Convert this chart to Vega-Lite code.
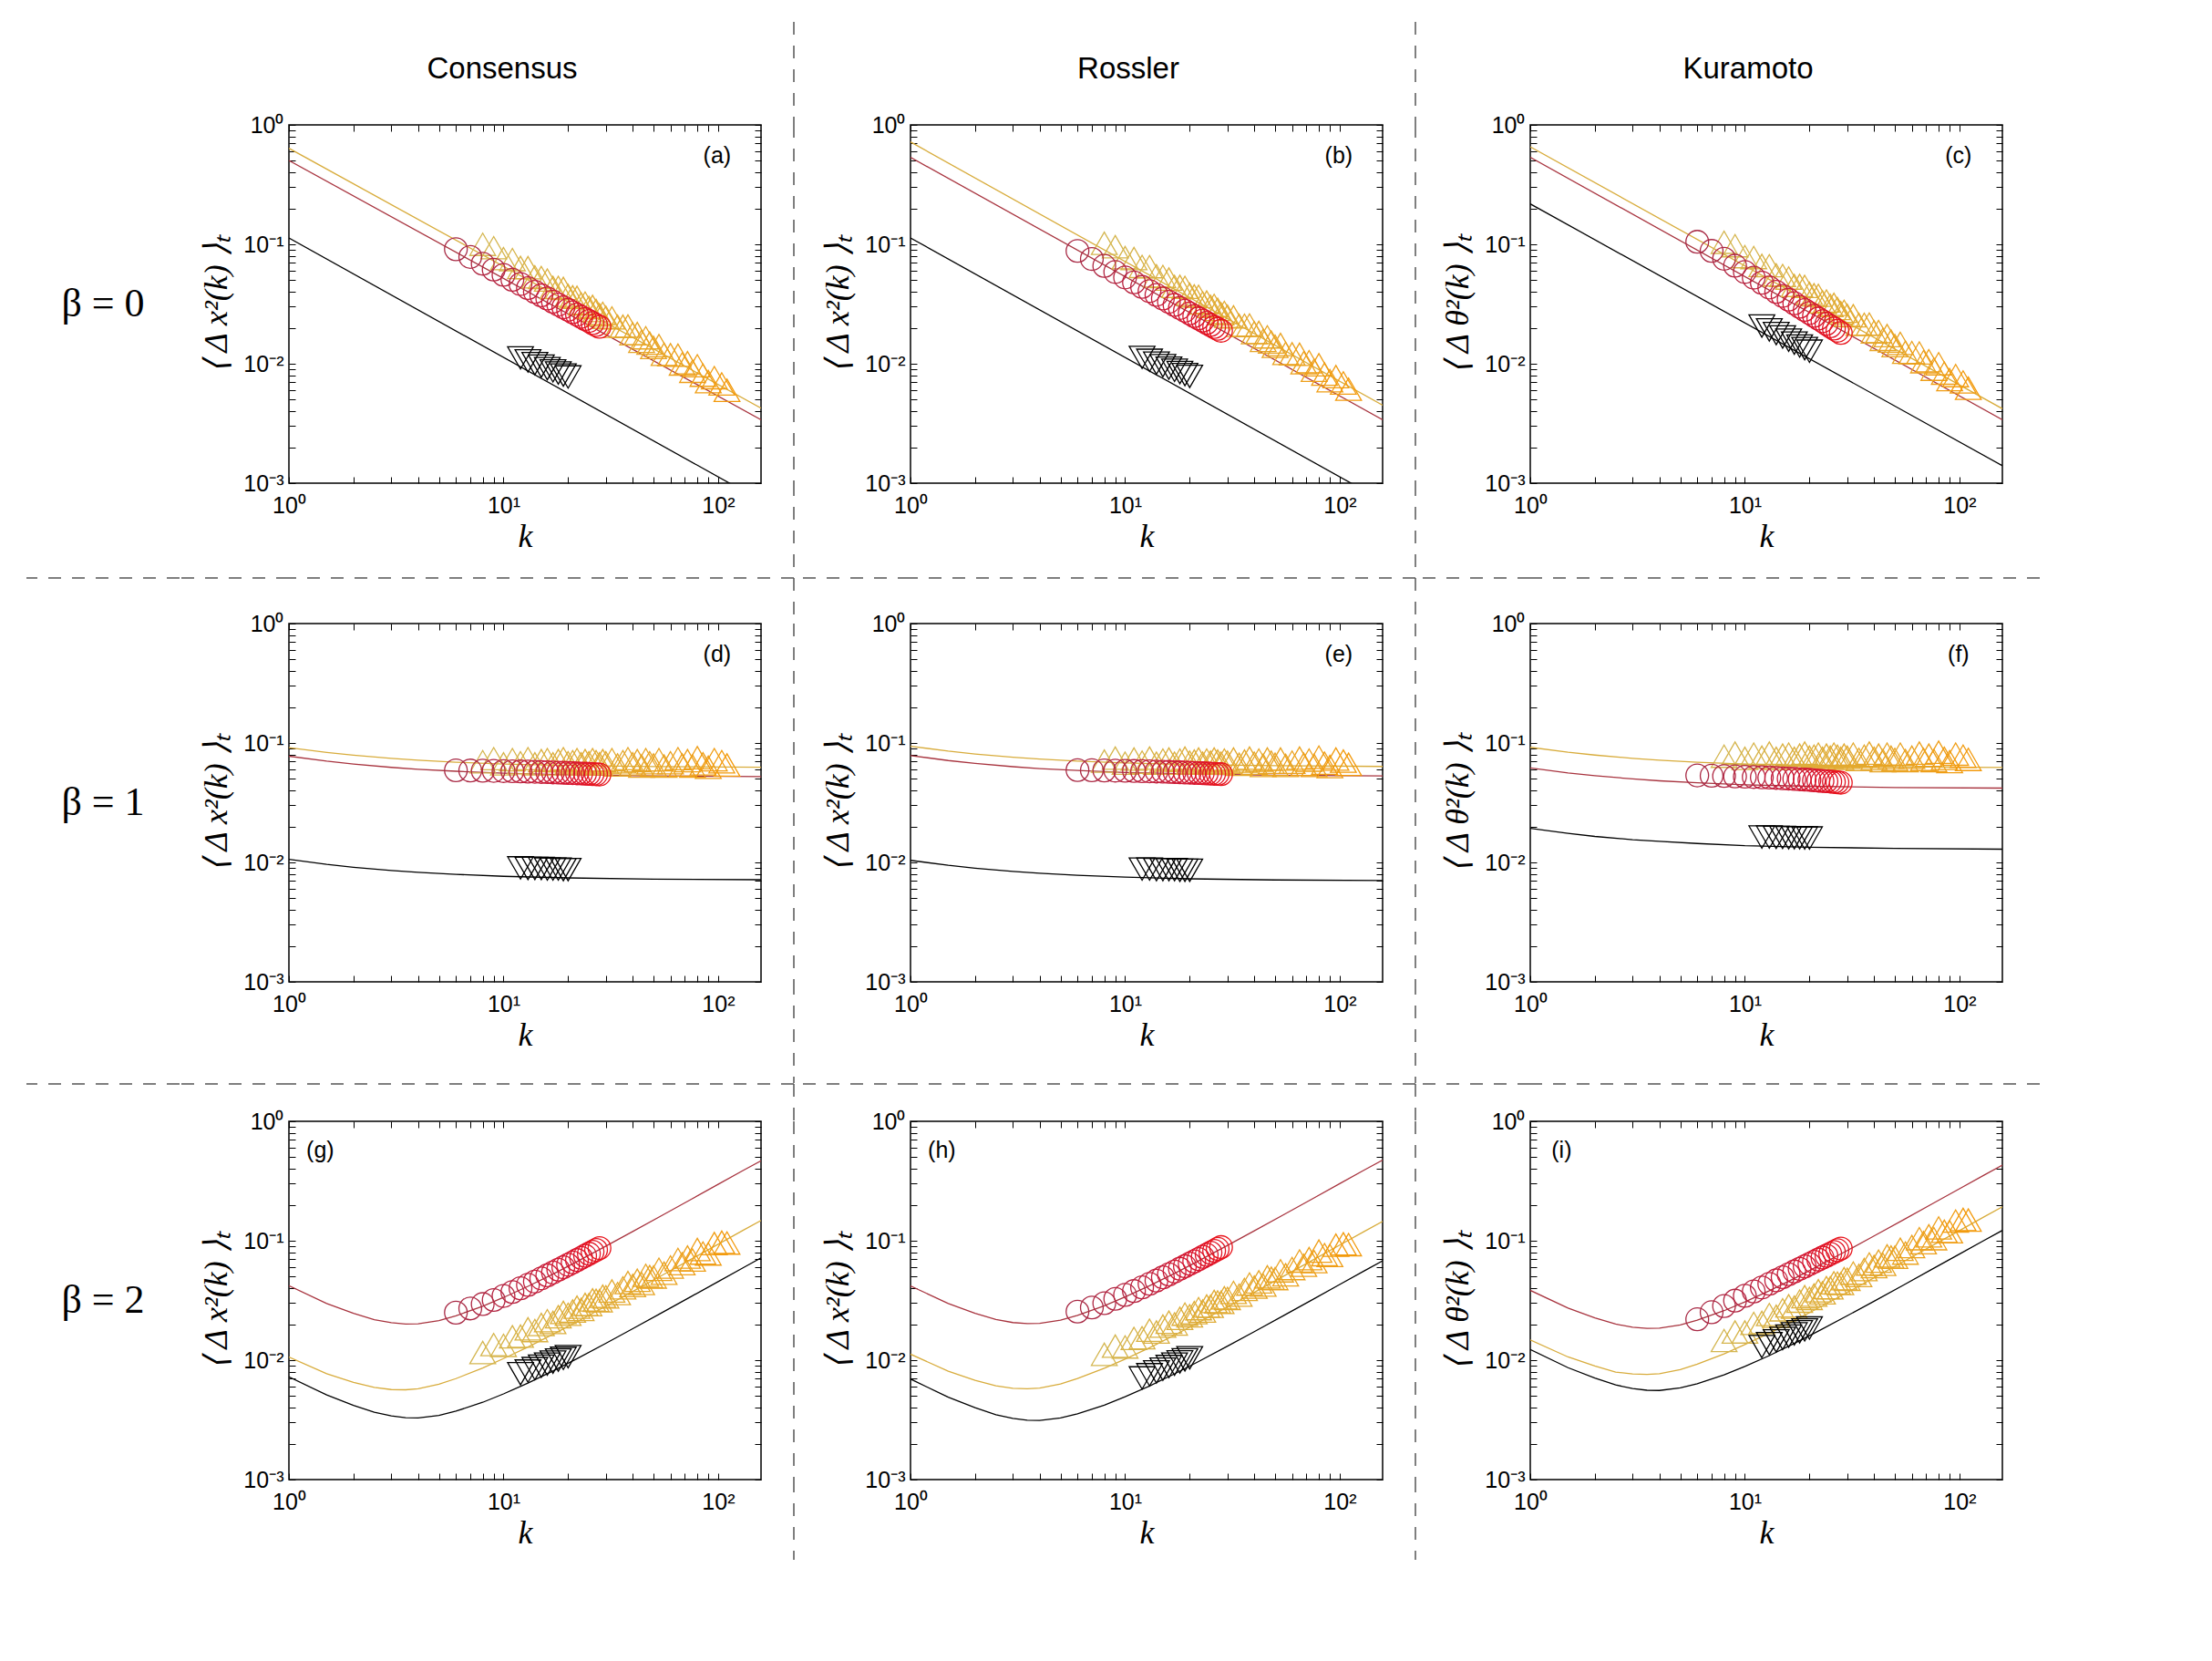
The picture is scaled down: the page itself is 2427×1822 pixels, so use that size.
{
"$schema": "https://vega.github.io/schema/vega-lite/v6.json",
"background": "white",
"autosize": {"type": "pad"},
"padding": {"left": 28, "top": 23, "right": 0, "bottom": 0},
"config": {
  "view": {"stroke": null},
  "axis": {"grid": false, "domain": false, "tickColor": "black", "tickWidth": 1, "labelColor": "black", "titleColor": "black", "labelFont": "Liberation Sans", "labelFontSize": 25, "titleFont": "Liberation Serif", "titleFontStyle": "italic", "titleFontWeight": "normal", "titleFontSize": 36, "labelFlush": false, "labelOverlap": false}
},
"datasets": {
"circ": [
{"k":6,"a":0.091,"b":0.088,"c":0.105,"d":0.059,"e":0.0593,"f":0.0535,"g":0.025,"h":0.0255,"i":0.022},
{"k":7,"a":0.0784,"b":0.0754,"c":0.0881,"d":0.0588,"e":0.0591,"f":0.0532,"g":0.0271,"h":0.0276,"i":0.0252},
{"k":8,"a":0.0688,"b":0.066,"c":0.0757,"d":0.0586,"e":0.0589,"f":0.0529,"g":0.0295,"h":0.03,"i":0.0284},
{"k":9,"a":0.0614,"b":0.0587,"c":0.0662,"d":0.0584,"e":0.0587,"f":0.0525,"g":0.0319,"h":0.0326,"i":0.0315},
{"k":10,"a":0.0555,"b":0.0528,"c":0.0587,"d":0.0582,"e":0.0585,"f":0.0522,"g":0.0345,"h":0.0352,"i":0.0346},
{"k":11,"a":0.0505,"b":0.048,"c":0.0526,"d":0.058,"e":0.0583,"f":0.0519,"g":0.0372,"h":0.0379,"i":0.0376},
{"k":12,"a":0.0465,"b":0.044,"c":0.0477,"d":0.0578,"e":0.0581,"f":0.0516,"g":0.04,"h":0.0407,"i":0.0406},
{"k":13,"a":0.043,"b":0.0406,"c":0.0435,"d":0.0576,"e":0.0579,"f":0.0513,"g":0.0427,"h":0.0436,"i":0.0436},
{"k":14,"a":0.04,"b":0.0377,"c":0.04,"d":0.0574,"e":0.0577,"f":0.051,"g":0.0455,"h":0.0464,"i":0.0466},
{"k":15,"a":0.0374,"b":0.0352,"c":0.037,"d":0.0572,"e":0.0575,"f":0.0506,"g":0.0484,"h":0.0494,"i":0.0495},
{"k":16,"a":0.0352,"b":0.033,"c":0.0344,"d":0.057,"e":0.0573,"f":0.0503,"g":0.0513,"h":0.0523,"i":0.0524},
{"k":17,"a":0.0331,"b":0.0311,"c":0.0321,"d":0.0567,"e":0.057,"f":0.05,"g":0.0542,"h":0.0552,"i":0.0553},
{"k":18,"a":0.0313,"b":0.0293,"c":0.03,"d":0.0565,"e":0.0568,"f":0.0497,"g":0.0572,"h":0.0583,"i":0.0582},
{"k":19,"a":0.0297,"b":0.0278,"c":0.0282,"d":0.0563,"e":0.0566,"f":0.0494,"g":0.06,"h":0.0612,"i":0.061},
{"k":20,"a":0.0283,"b":0.0264,"c":0.0266,"d":0.0561,"e":0.0564,"f":0.0491,"g":0.063,"h":0.0643,"i":0.0638},
{"k":21,"a":0.027,"b":0.0251,"c":0.0252,"d":0.0559,"e":0.0562,"f":0.0487,"g":0.0659,"h":0.0672,"i":0.0667},
{"k":22,"a":0.0258,"b":0.024,"c":0.0239,"d":0.0557,"e":0.056,"f":0.0484,"g":0.0689,"h":0.0702,"i":0.0695},
{"k":23,"a":0.0247,"b":0.023,"c":0.0227,"d":0.0555,"e":0.0558,"f":0.0481,"g":0.0719,"h":0.0733,"i":0.0723},
{"k":24,"a":0.0237,"b":0.022,"c":0.0216,"d":0.0553,"e":0.0556,"f":0.0478,"g":0.0749,"h":0.0763,"i":0.075},
{"k":25,"a":0.0228,"b":0.0211,"c":0.0206,"d":0.0551,"e":0.0554,"f":0.0475,"g":0.0779,"h":0.0794,"i":0.0778},
{"k":26,"a":0.0219,"b":0.0203,"c":0.0197,"d":0.0549,"e":0.0552,"f":0.0472,"g":0.0809,"h":0.0824,"i":0.0806},
{"k":27,"a":0.0211,"b":0.0196,"c":0.0189,"d":0.0547,"e":0.055,"f":0.0468,"g":0.0838,"h":0.0855,"i":0.0833},
{"k":28,"a":0.0204,"b":0.0189,"c":0.0181,"d":0.0545,"e":0.0548,"f":0.0465,"g":0.0868,"h":0.0885,"i":0.086}
],
"tri": [
{"k":8,"a":0.1,"b":0.102,"c":0.104,"d":0.0697,"e":0.0705,"f":0.0775,"g":0.0116,"h":0.0112,"i":0.0146},
{"k":9,"a":0.0937,"b":0.0956,"c":0.0974,"d":0.0739,"e":0.0747,"f":0.0822,"g":0.0135,"h":0.0131,"i":0.0172},
{"k":10,"a":0.0759,"b":0.0774,"c":0.0789,"d":0.0669,"e":0.0677,"f":0.0744,"g":0.0133,"h":0.0129,"i":0.0172},
{"k":11,"a":0.0745,"b":0.076,"c":0.0775,"d":0.0725,"e":0.0733,"f":0.0806,"g":0.0157,"h":0.0152,"i":0.0203},
{"k":12,"a":0.064,"b":0.0653,"c":0.0666,"d":0.0683,"e":0.0691,"f":0.076,"g":0.0159,"h":0.0154,"i":0.0207},
{"k":13,"a":0.0637,"b":0.065,"c":0.0662,"d":0.0739,"e":0.0747,"f":0.0822,"g":0.0183,"h":0.0178,"i":0.0241},
{"k":14,"a":0.0534,"b":0.0545,"c":0.0555,"d":0.0669,"e":0.0677,"f":0.0744,"g":0.0177,"h":0.0172,"i":0.0233},
{"k":15,"a":0.0527,"b":0.0538,"c":0.0548,"d":0.0711,"e":0.0719,"f":0.0791,"g":0.0199,"h":0.0193,"i":0.0264},
{"k":16,"a":0.0502,"b":0.0512,"c":0.0522,"d":0.0725,"e":0.0733,"f":0.0806,"g":0.0214,"h":0.0208,"i":0.0285},
{"k":17,"a":0.0435,"b":0.0444,"c":0.0452,"d":0.0669,"e":0.0677,"f":0.0744,"g":0.0207,"h":0.0201,"i":0.0278},
{"k":18,"a":0.0436,"b":0.0445,"c":0.0453,"d":0.0711,"e":0.0719,"f":0.0791,"g":0.0231,"h":0.0224,"i":0.0312},
{"k":19,"a":0.0427,"b":0.0436,"c":0.0444,"d":0.0739,"e":0.0747,"f":0.0822,"g":0.0251,"h":0.0243,"i":0.034},
{"k":20,"a":0.0374,"b":0.0381,"c":0.0389,"d":0.0683,"e":0.0691,"f":0.076,"g":0.0242,"h":0.0235,"i":0.0329},
{"k":21,"a":0.0363,"b":0.037,"c":0.0378,"d":0.0697,"e":0.0705,"f":0.0775,"g":0.0258,"h":0.025,"i":0.0351},
{"k":22,"a":0.036,"b":0.0367,"c":0.0374,"d":0.0725,"e":0.0733,"f":0.0806,"g":0.0278,"h":0.027,"i":0.0381},
{"k":23,"a":0.0317,"b":0.0323,"c":0.033,"d":0.0669,"e":0.0677,"f":0.0744,"g":0.0266,"h":0.0258,"i":0.0366},
{"k":24,"a":0.0322,"b":0.0328,"c":0.0335,"d":0.0711,"e":0.0719,"f":0.0791,"g":0.0293,"h":0.0284,"i":0.0405},
{"k":25,"a":0.0296,"b":0.0302,"c":0.0308,"d":0.0683,"e":0.0691,"f":0.076,"g":0.0292,"h":0.0283,"i":0.0404},
{"k":26,"a":0.0302,"b":0.0308,"c":0.0314,"d":0.0725,"e":0.0733,"f":0.0806,"g":0.032,"h":0.031,"i":0.0444},
{"k":27,"a":0.0279,"b":0.0285,"c":0.029,"d":0.0697,"e":0.0705,"f":0.0775,"g":0.0317,"h":0.0307,"i":0.0442},
{"k":28,"a":0.0257,"b":0.0262,"c":0.0267,"d":0.0669,"e":0.0677,"f":0.0744,"g":0.0314,"h":0.0305,"i":0.0438},
{"k":29,"a":0.0264,"b":0.0269,"c":0.0275,"d":0.0711,"e":0.0719,"f":0.0791,"g":0.0343,"h":0.0333,"i":0.0481},
{"k":30,"a":0.0245,"b":0.025,"c":0.0255,"d":0.0683,"e":0.0691,"f":0.076,"g":0.0339,"h":0.0329,"i":0.0476},
{"k":32,"a":0.0242,"b":0.0247,"c":0.0252,"d":0.0725,"e":0.0733,"f":0.0806,"g":0.038,"h":0.0369,"i":0.0536},
{"k":34,"a":0.0206,"b":0.021,"c":0.0214,"d":0.0655,"e":0.0663,"f":0.0729,"g":0.0361,"h":0.035,"i":0.0512},
{"k":36,"a":0.0206,"b":0.021,"c":0.0214,"d":0.0697,"e":0.0705,"f":0.0775,"g":0.0403,"h":0.0391,"i":0.0574},
{"k":38,"a":0.0207,"b":0.0211,"c":0.0215,"d":0.0739,"e":0.0747,"f":0.0822,"g":0.0447,"h":0.0434,"i":0.0639},
{"k":40,"a":0.0178,"b":0.0182,"c":0.0185,"d":0.0669,"e":0.0677,"f":0.0744,"g":0.0422,"h":0.0409,"i":0.0607},
{"k":42,"a":0.0179,"b":0.0183,"c":0.0186,"d":0.0711,"e":0.0719,"f":0.0791,"g":0.0467,"h":0.0453,"i":0.0674},
{"k":44,"a":0.0154,"b":0.0157,"c":0.016,"d":0.0641,"e":0.0649,"f":0.0713,"g":0.0438,"h":0.0425,"i":0.0634},
{"k":46,"a":0.0165,"b":0.0168,"c":0.0172,"d":0.0725,"e":0.0733,"f":0.0806,"g":0.0513,"h":0.0498,"i":0.0746},
{"k":48,"a":0.0149,"b":0.0152,"c":0.0155,"d":0.0683,"e":0.0691,"f":0.076,"g":0.0501,"h":0.0486,"i":0.0731},
{"k":50,"a":0.0137,"b":0.014,"c":0.0142,"d":0.0655,"e":0.0663,"f":0.0729,"g":0.0497,"h":0.0482,"i":0.0728},
{"k":53,"a":0.0142,"b":0.0145,"c":0.0148,"d":0.0725,"e":0.0733,"f":0.0806,"g":0.0577,"h":0.056,"i":0.0849},
{"k":56,"a":0.012,"b":0.0122,"c":0.0125,"d":0.0641,"e":0.0649,"f":0.0713,"g":0.0535,"h":0.0519,"i":0.0789},
{"k":60,"a":0.0119,"b":0.0121,"c":0.0124,"d":0.0683,"e":0.0691,"f":0.076,"g":0.0603,"h":0.0585,"i":0.0895},
{"k":65,"a":0.0118,"b":0.012,"c":0.0123,"d":0.0739,"e":0.0747,"f":0.0822,"g":0.0697,"h":0.0676,"i":0.104},
{"k":68,"a":0.00996,"b":0.0102,"c":0.0104,"d":0.0655,"e":0.0663,"f":0.0729,"g":0.0642,"h":0.0623,"i":0.0963},
{"k":72,"a":0.0102,"b":0.0104,"c":0.0106,"d":0.0711,"e":0.0719,"f":0.0791,"g":0.073,"h":0.0708,"i":0.11},
{"k":76,"a":0.00865,"b":0.00882,"c":0.009,"d":0.0641,"e":0.0649,"f":0.0713,"g":0.0689,"h":0.0668,"i":0.104},
{"k":80,"a":0.00962,"b":0.00981,"c":0.01,"d":0.0753,"e":0.0761,"f":0.0837,"g":0.0844,"h":0.0819,"i":0.128},
{"k":85,"a":0.00803,"b":0.00819,"c":0.00835,"d":0.0669,"e":0.0677,"f":0.0744,"g":0.0789,"h":0.0765,"i":0.12},
{"k":90,"a":0.00708,"b":0.00722,"c":0.00736,"d":0.0627,"e":0.0635,"f":0.0698,"g":0.0775,"h":0.0752,"i":0.119},
{"k":96,"a":0.00765,"b":0.0078,"c":0.00796,"d":0.0725,"e":0.0733,"f":0.0806,"g":0.0946,"h":0.0918,"i":0.146},
{"k":104,"a":0.00677,"b":0.00691,"c":0.00704,"d":0.0697,"e":0.0705,"f":0.0775,"g":0.0972,"h":0.0943,"i":0.151},
{"k":110,"a":0.006,"b":0.00612,"c":0.00624,"d":0.0655,"e":0.0663,"f":0.0729,"g":0.0957,"h":0.0928,"i":0.149}
],
"btri": [
{"k":12,"a":0.0112,"b":0.0113,"c":0.0207,"d":0.009,"e":0.0088,"f":0.0163,"g":0.0077,"h":0.0071,"i":0.013},
{"k":13,"a":0.01057,"b":0.01068,"c":0.01919,"d":0.0089,"e":0.0088,"f":0.0163,"g":0.0081,"h":0.00755,"i":0.01374},
{"k":14,"a":0.01002,"b":0.01012,"c":0.01788,"d":0.0089,"e":0.0087,"f":0.0162,"g":0.0085,"h":0.00798,"i":0.01448},
{"k":15,"a":0.00954,"b":0.00964,"c":0.01675,"d":0.0089,"e":0.0087,"f":0.0162,"g":0.0089,"h":0.00841,"i":0.0152},
{"k":16,"a":0.0091,"b":0.00919,"c":0.01575,"d":0.0088,"e":0.0087,"f":0.0161,"g":0.00927,"h":0.00884,"i":0.0159},
{"k":17,"a":0.00872,"b":0.00881,"c":0.01487,"d":0.0088,"e":0.0087,"f":0.0161,"g":0.00964,"h":0.00925,"i":0.01659},
{"k":18,"a":0.00837,"b":0.00845,"c":0.01408,"d":0.0088,"e":0.0086,"f":0.0161,"g":0.01001,"h":0.00966,"i":0.01727},
{"k":19,"a":0.00804,"b":0.00812,"c":0.01338,"d":0.0087,"e":0.0086,"f":0.016,"g":0.01036,"h":0.01007,"i":0.01793},
{"k":20,"a":0.00775,"b":0.00783,"c":0.01274,"d":0.0087,"e":0.0086,"f":0.016,"g":0.01071,"h":0.01047,"i":0.01859}
],
"cur0": [
{"k":1,"ar":0.503,"ay":0.637,"ab":0.113,"br":0.535,"by":0.72,"bb":0.113,"cr":0.535,"cy":0.656,"cb":0.218},
{"k":158.5,"ar":0.0034,"ay":0.00425,"ab":0.000713,"br":0.0034,"by":0.0045,"bb":0.000713,"cr":0.0034,"cy":0.0042,"cb":0.0014}
],
"cur1": [
{"k":1,"dr":0.0775,"dy":0.0915,"db":0.0106,"er":0.0785,"ey":0.094,"eb":0.0104,"fr":0.0619,"fy":0.092,"fb":0.0193},
{"k":1.5,"dr":0.0704,"dy":0.0834,"db":0.00963,"er":0.0713,"ey":0.0854,"eb":0.00945,"fr":0.0562,"fy":0.0837,"fb":0.0175},
{"k":2,"dr":0.0666,"dy":0.079,"db":0.00911,"er":0.0675,"ey":0.0808,"eb":0.00894,"fr":0.0532,"fy":0.0792,"fb":0.0165},
{"k":3,"dr":0.0625,"dy":0.0743,"db":0.00855,"er":0.0633,"ey":0.0759,"eb":0.0084,"fr":0.05,"fy":0.0744,"fb":0.0155},
{"k":4,"dr":0.0603,"dy":0.0718,"db":0.00826,"er":0.0611,"ey":0.0733,"eb":0.00811,"fr":0.0482,"fy":0.0718,"fb":0.015},
{"k":6,"dr":0.058,"dy":0.0691,"db":0.00794,"er":0.0588,"ey":0.0705,"eb":0.0078,"fr":0.0464,"fy":0.0691,"fb":0.0144},
{"k":10,"dr":0.0559,"dy":0.0667,"db":0.00765,"er":0.0567,"ey":0.068,"eb":0.00752,"fr":0.0447,"fy":0.0667,"fb":0.0138},
{"k":20,"dr":0.0542,"dy":0.0648,"db":0.00742,"er":0.055,"ey":0.0659,"eb":0.00729,"fr":0.0434,"fy":0.0646,"fb":0.0134},
{"k":50,"dr":0.053,"dy":0.0634,"db":0.00725,"er":0.0537,"ey":0.0645,"eb":0.00713,"fr":0.0424,"fy":0.0632,"fb":0.0131},
{"k":158.5,"dr":0.0523,"dy":0.0626,"db":0.00716,"er":0.053,"ey":0.0636,"eb":0.00704,"fr":0.0419,"fy":0.0624,"fb":0.0129}
],
"cur2": [
{"k":1,"gr":0.042,"gy":0.01063,"gb":0.007254,"hr":0.0419,"hy":0.01122,"hb":0.006949,"ir":0.03842,"iy":0.01477,"ib":0.01227},
{"k":1.5,"gr":0.02983,"gy":0.00771,"gb":0.00511,"hr":0.02982,"hy":0.008079,"hb":0.004891,"ir":0.02732,"iy":0.01064,"ib":0.008649},
{"k":2,"gr":0.02466,"gy":0.006516,"gb":0.004179,"hr":0.02469,"hy":0.006776,"hb":0.003994,"ir":0.02259,"iy":0.008929,"ib":0.007075},
{"k":2.5,"gr":0.02185,"gy":0.005904,"gb":0.003662,"hr":0.02191,"hy":0.006094,"hb":0.003497,"ir":0.02003,"iy":0.00795,"ib":0.006204},
{"k":3,"gr":0.02057,"gy":0.005673,"gb":0.003411,"hr":0.02065,"hy":0.005816,"hb":0.003252,"ir":0.01886,"iy":0.007672,"ib":0.00578},
{"k":3.5,"gr":0.0201,"gy":0.005647,"gb":0.003302,"hr":0.02021,"hy":0.005756,"hb":0.003146,"ir":0.01844,"iy":0.007596,"ib":0.005599},
{"k":4,"gr":0.02019,"gy":0.00576,"gb":0.003287,"hr":0.02032,"hy":0.005841,"hb":0.003129,"ir":0.01852,"iy":0.007712,"ib":0.005575},
{"k":5,"gr":0.02147,"gy":0.00628,"gb":0.003449,"hr":0.02164,"hy":0.006318,"hb":0.003277,"ir":0.0197,"iy":0.008346,"ib":0.005852},
{"k":6,"gr":0.02353,"gy":0.007004,"gb":0.003741,"hr":0.02375,"hy":0.007008,"hb":0.003551,"ir":0.0216,"iy":0.009262,"ib":0.006353},
{"k":8,"gr":0.02827,"gy":0.008598,"gb":0.004437,"hr":0.02857,"hy":0.008546,"hb":0.004205,"ir":0.02596,"iy":0.0113,"ib":0.007538},
{"k":10,"gr":0.0335,"gy":0.01031,"gb":0.00522,"hr":0.03389,"hy":0.01021,"hb":0.004942,"ir":0.03077,"iy":0.0135,"ib":0.00887},
{"k":13,"gr":0.0415,"gy":0.01289,"gb":0.006425,"hr":0.042,"hy":0.01272,"hb":0.006079,"ir":0.0381,"iy":0.01684,"ib":0.01092},
{"k":17,"gr":0.0526,"gy":0.01645,"gb":0.008118,"hr":0.0533,"hy":0.01622,"hb":0.007677,"ir":0.0483,"iy":0.02146,"ib":0.0138},
{"k":22,"gr":0.0669,"gy":0.02099,"gb":0.0103,"hr":0.0678,"hy":0.02067,"hb":0.009734,"ir":0.0615,"iy":0.02735,"ib":0.0175},
{"k":30,"gr":0.0901,"gy":0.02834,"gb":0.01385,"hr":0.0913,"hy":0.02788,"hb":0.01309,"ir":0.0828,"iy":0.0369,"ib":0.02354},
{"k":40,"gr":0.1194,"gy":0.0376,"gb":0.01833,"hr":0.121,"hy":0.03698,"hb":0.01732,"ir":0.1097,"iy":0.04894,"ib":0.03117},
{"k":55,"gr":0.1635,"gy":0.05155,"gb":0.02509,"hr":0.1657,"hy":0.05068,"hb":0.02372,"ir":0.1502,"iy":0.06708,"ib":0.04267},
{"k":75,"gr":0.2225,"gy":0.07018,"gb":0.03414,"hr":0.2255,"hy":0.06899,"hb":0.03227,"ir":0.2045,"iy":0.09131,"ib":0.05805},
{"k":100,"gr":0.2964,"gy":0.0935,"gb":0.04547,"hr":0.3004,"hy":0.0919,"hb":0.04297,"ir":0.2724,"iy":0.1216,"ib":0.07732},
{"k":130,"gr":0.385,"gy":0.1215,"gb":0.05907,"hr":0.3903,"hy":0.1194,"hb":0.05582,"ir":0.3539,"iy":0.1581,"ib":0.1005},
{"k":158.5,"gr":0.468,"gy":0.1477,"gb":0.07177,"hr":0.4742,"hy":0.1451,"hb":0.06782,"ir":0.43,"iy":0.1921,"ib":0.1221}
]
},
"columns": 7,
"spacing": 0,
"bounds": "flush",
"align": "each",
"concat": [
 {"width": 1, "height": 1, "data": {"values": []}, "mark": "point"},
 {"width": 1, "height": 1, "data": {"values": []}, "mark": "point"},
 {"width": 1, "height": 1, "data": {"values": []}, "mark": "point"},
 {"width": 128, "height": 113, "data": {"values": [{}]}, "mark": {"type": "rule", "color": "#555555", "strokeWidth": 1.5, "strokeDash": [14, 12]}, "encoding": {"x": {"datum": 0, "type": "quantitative", "scale": {"domain": [0, 1]}, "axis": null}}},
 {"width": 1, "height": 1, "data": {"values": []}, "mark": "point"},
 {"width": 126, "height": 113, "data": {"values": [{}]}, "mark": {"type": "rule", "color": "#555555", "strokeWidth": 1.5, "strokeDash": [14, 12]}, "encoding": {"x": {"datum": 0, "type": "quantitative", "scale": {"domain": [0, 1]}, "axis": null}}},
 {"width": 1, "height": 1, "data": {"values": []}, "mark": "point"},

 {"width": 168, "height": 393, "data": {"values": [{"t": "β = 0"}]}, "mark": {"type": "text", "font": "Liberation Serif", "fontSize": 44, "color": "black"}, "encoding": {"text": {"field": "t"}}},
 {"width": 1, "height": 1, "data": {"values": []}, "mark": "point"},
 {"width": 518, "height": 393, "view": {"stroke": "black", "strokeWidth": 1.5},
  "title": {"text": "Consensus", "font": "Liberation Sans", "fontSize": 33, "fontWeight": "normal", "color": "black", "anchor": "middle", "frame": "group", "offset": 32, "dx": -25},
  "resolve": {"axis": {"x": "independent", "y": "independent"}},
  "layer": [
   {"data": {"name": "cur0"}, "mark": {"type": "line", "clip": true, "color": "#a8343f", "strokeWidth": 1.3},
    "encoding": {"x": {"field": "k", "type": "quantitative", "scale": {"type": "log", "domain": [1, 158.5], "nice": false}, "axis": {"orient": "bottom", "values": [1, 10, 100], "labelExpr": "datum.value < 5 ? '10⁰' : datum.value < 50 ? '10¹' : '10²'", "ticks": false, "tickSize": 0, "labelPadding": 12, "title": "k", "titlePadding": 4}},
     "y": {"field": "ar", "type": "quantitative", "scale": {"type": "log", "domain": [0.001, 1], "nice": false}, "axis": {"orient": "left", "values": [0.001, 0.01, 0.1, 1], "labelExpr": "datum.value > 0.5 ? '10⁰' : datum.value > 0.05 ? '10⁻¹' : datum.value > 0.005 ? '10⁻²' : '10⁻³'", "ticks": false, "tickSize": 0, "labelPadding": 6, "title": "⟨ Δ x²(k) ⟩ₜ", "titlePadding": 10}}}},
   {"data": {"name": "cur0"}, "mark": {"type": "line", "clip": true, "color": "#d8ac3c", "strokeWidth": 1.3},
    "encoding": {"x": {"field": "k", "type": "quantitative", "scale": {"type": "log", "domain": [1, 158.5], "nice": false}, "axis": {"orient": "top", "offset": -393, "values": [1,2,3,4,5,6,7,8,9,10,20,30,40,50,60,70,80,90,100], "labels": false, "tickSize": 7, "title": null}},
     "y": {"field": "ay", "type": "quantitative", "scale": {"type": "log", "domain": [0.001, 1], "nice": false}, "axis": {"orient": "right", "offset": -518, "values": [0.001,0.002,0.003,0.004,0.005,0.006,0.007,0.008,0.009,0.01,0.02,0.03,0.04,0.05,0.06,0.07,0.08,0.09,0.1,0.2,0.3,0.4,0.5,0.6,0.7,0.8,0.9,1], "labels": false, "tickSize": 7, "title": null}}}},
   {"data": {"name": "cur0"}, "mark": {"type": "line", "clip": true, "color": "black", "strokeWidth": 1.3},
    "encoding": {"x": {"field": "k", "type": "quantitative", "scale": {"type": "log", "domain": [1, 158.5], "nice": false}, "axis": {"orient": "bottom", "offset": -393, "values": [1,2,3,4,5,6,7,8,9,10,20,30,40,50,60,70,80,90,100], "labels": false, "tickSize": 7, "title": null}},
     "y": {"field": "ab", "type": "quantitative", "scale": {"type": "log", "domain": [0.001, 1], "nice": false}, "axis": {"orient": "left", "offset": -518, "values": [0.001,0.002,0.003,0.004,0.005,0.006,0.007,0.008,0.009,0.01,0.02,0.03,0.04,0.05,0.06,0.07,0.08,0.09,0.1,0.2,0.3,0.4,0.5,0.6,0.7,0.8,0.9,1], "labels": false, "tickSize": 7, "title": null}}}},
   {"data": {"name": "tri"}, "mark": {"type": "point", "shape": "triangle-up", "filled": false, "size": 800, "strokeWidth": 1.3, "opacity": 1},
    "encoding": {"x": {"field": "k", "type": "quantitative", "scale": {"type": "log", "domain": [1, 158.5], "nice": false}, "axis": null}, "y": {"field": "a", "type": "quantitative", "scale": {"type": "log", "domain": [0.001, 1], "nice": false}, "axis": null},
     "color": {"field": "k", "type": "quantitative", "scale": {"type": "log", "domain": [8, 110], "range": ["#d4b650", "#f39a0c"]}, "legend": null}}},
   {"data": {"name": "circ"}, "mark": {"type": "point", "shape": "circle", "filled": false, "size": 620, "strokeWidth": 1.3, "opacity": 1},
    "encoding": {"x": {"field": "k", "type": "quantitative", "scale": {"type": "log", "domain": [1, 158.5], "nice": false}, "axis": null}, "y": {"field": "a", "type": "quantitative", "scale": {"type": "log", "domain": [0.001, 1], "nice": false}, "axis": null},
     "stroke": {"field": "k", "type": "quantitative", "scale": {"domain": [6, 28], "range": ["#a82a45", "#e8141c"]}, "legend": null}}},
   {"data": {"name": "btri"}, "mark": {"type": "point", "shape": "triangle-down", "filled": false, "size": 800, "strokeWidth": 1.3, "color": "black", "opacity": 1},
    "encoding": {"x": {"field": "k", "type": "quantitative", "scale": {"type": "log", "domain": [1, 158.5], "nice": false}, "axis": null}, "y": {"field": "a", "type": "quantitative", "scale": {"type": "log", "domain": [0.001, 1], "nice": false}, "axis": null}}},
   {"data": {"values": [{"t": "(a)"}]}, "mark": {"type": "text", "font": "Liberation Sans", "fontSize": 25, "color": "black"},
    "encoding": {"x": {"datum": 99, "type": "quantitative", "scale": {"type": "log", "domain": [1, 158.5], "nice": false}, "axis": null}, "y": {"datum": 0.55, "type": "quantitative", "scale": {"type": "log", "domain": [0.001, 1], "nice": false}, "axis": null}, "text": {"field": "t"}}}
  ]},
 {"width": 128, "height": 393, "data": {"values": [{}]}, "mark": {"type": "rule", "color": "#555555", "strokeWidth": 1.5, "strokeDash": [14, 12]}, "encoding": {"x": {"datum": 0, "type": "quantitative", "scale": {"domain": [0, 1]}, "axis": null}}},
 {"width": 518, "height": 393, "view": {"stroke": "black", "strokeWidth": 1.5},
  "title": {"text": "Rossler", "font": "Liberation Sans", "fontSize": 33, "fontWeight": "normal", "color": "black", "anchor": "middle", "frame": "group", "offset": 32, "dx": -20},
  "resolve": {"axis": {"x": "independent", "y": "independent"}},
  "layer": [
   {"data": {"name": "cur0"}, "mark": {"type": "line", "clip": true, "color": "#a8343f", "strokeWidth": 1.3},
    "encoding": {"x": {"field": "k", "type": "quantitative", "scale": {"type": "log", "domain": [1, 158.5], "nice": false}, "axis": {"orient": "bottom", "values": [1, 10, 100], "labelExpr": "datum.value < 5 ? '10⁰' : datum.value < 50 ? '10¹' : '10²'", "ticks": false, "tickSize": 0, "labelPadding": 12, "title": "k", "titlePadding": 4}},
     "y": {"field": "br", "type": "quantitative", "scale": {"type": "log", "domain": [0.001, 1], "nice": false}, "axis": {"orient": "left", "values": [0.001, 0.01, 0.1, 1], "labelExpr": "datum.value > 0.5 ? '10⁰' : datum.value > 0.05 ? '10⁻¹' : datum.value > 0.005 ? '10⁻²' : '10⁻³'", "ticks": false, "tickSize": 0, "labelPadding": 6, "title": "⟨ Δ x²(k) ⟩ₜ", "titlePadding": 10}}}},
   {"data": {"name": "cur0"}, "mark": {"type": "line", "clip": true, "color": "#d8ac3c", "strokeWidth": 1.3},
    "encoding": {"x": {"field": "k", "type": "quantitative", "scale": {"type": "log", "domain": [1, 158.5], "nice": false}, "axis": {"orient": "top", "offset": -393, "values": [1,2,3,4,5,6,7,8,9,10,20,30,40,50,60,70,80,90,100], "labels": false, "tickSize": 7, "title": null}},
     "y": {"field": "by", "type": "quantitative", "scale": {"type": "log", "domain": [0.001, 1], "nice": false}, "axis": {"orient": "right", "offset": -518, "values": [0.001,0.002,0.003,0.004,0.005,0.006,0.007,0.008,0.009,0.01,0.02,0.03,0.04,0.05,0.06,0.07,0.08,0.09,0.1,0.2,0.3,0.4,0.5,0.6,0.7,0.8,0.9,1], "labels": false, "tickSize": 7, "title": null}}}},
   {"data": {"name": "cur0"}, "mark": {"type": "line", "clip": true, "color": "black", "strokeWidth": 1.3},
    "encoding": {"x": {"field": "k", "type": "quantitative", "scale": {"type": "log", "domain": [1, 158.5], "nice": false}, "axis": {"orient": "bottom", "offset": -393, "values": [1,2,3,4,5,6,7,8,9,10,20,30,40,50,60,70,80,90,100], "labels": false, "tickSize": 7, "title": null}},
     "y": {"field": "bb", "type": "quantitative", "scale": {"type": "log", "domain": [0.001, 1], "nice": false}, "axis": {"orient": "left", "offset": -518, "values": [0.001,0.002,0.003,0.004,0.005,0.006,0.007,0.008,0.009,0.01,0.02,0.03,0.04,0.05,0.06,0.07,0.08,0.09,0.1,0.2,0.3,0.4,0.5,0.6,0.7,0.8,0.9,1], "labels": false, "tickSize": 7, "title": null}}}},
   {"data": {"name": "tri"}, "mark": {"type": "point", "shape": "triangle-up", "filled": false, "size": 800, "strokeWidth": 1.3, "opacity": 1},
    "encoding": {"x": {"field": "k", "type": "quantitative", "scale": {"type": "log", "domain": [1, 158.5], "nice": false}, "axis": null}, "y": {"field": "b", "type": "quantitative", "scale": {"type": "log", "domain": [0.001, 1], "nice": false}, "axis": null},
     "color": {"field": "k", "type": "quantitative", "scale": {"type": "log", "domain": [8, 110], "range": ["#d4b650", "#f39a0c"]}, "legend": null}}},
   {"data": {"name": "circ"}, "mark": {"type": "point", "shape": "circle", "filled": false, "size": 620, "strokeWidth": 1.3, "opacity": 1},
    "encoding": {"x": {"field": "k", "type": "quantitative", "scale": {"type": "log", "domain": [1, 158.5], "nice": false}, "axis": null}, "y": {"field": "b", "type": "quantitative", "scale": {"type": "log", "domain": [0.001, 1], "nice": false}, "axis": null},
     "stroke": {"field": "k", "type": "quantitative", "scale": {"domain": [6, 28], "range": ["#a82a45", "#e8141c"]}, "legend": null}}},
   {"data": {"name": "btri"}, "mark": {"type": "point", "shape": "triangle-down", "filled": false, "size": 800, "strokeWidth": 1.3, "color": "black", "opacity": 1},
    "encoding": {"x": {"field": "k", "type": "quantitative", "scale": {"type": "log", "domain": [1, 158.5], "nice": false}, "axis": null}, "y": {"field": "b", "type": "quantitative", "scale": {"type": "log", "domain": [0.001, 1], "nice": false}, "axis": null}}},
   {"data": {"values": [{"t": "(b)"}]}, "mark": {"type": "text", "font": "Liberation Sans", "fontSize": 25, "color": "black"},
    "encoding": {"x": {"datum": 99, "type": "quantitative", "scale": {"type": "log", "domain": [1, 158.5], "nice": false}, "axis": null}, "y": {"datum": 0.55, "type": "quantitative", "scale": {"type": "log", "domain": [0.001, 1], "nice": false}, "axis": null}, "text": {"field": "t"}}}
  ]},
 {"width": 126, "height": 393, "data": {"values": [{}]}, "mark": {"type": "rule", "color": "#555555", "strokeWidth": 1.5, "strokeDash": [14, 12]}, "encoding": {"x": {"datum": 0, "type": "quantitative", "scale": {"domain": [0, 1]}, "axis": null}}},
 {"width": 518, "height": 393, "view": {"stroke": "black", "strokeWidth": 1.5},
  "title": {"text": "Kuramoto", "font": "Liberation Sans", "fontSize": 33, "fontWeight": "normal", "color": "black", "anchor": "middle", "frame": "group", "offset": 32, "dx": -20},
  "resolve": {"axis": {"x": "independent", "y": "independent"}},
  "layer": [
   {"data": {"name": "cur0"}, "mark": {"type": "line", "clip": true, "color": "#a8343f", "strokeWidth": 1.3},
    "encoding": {"x": {"field": "k", "type": "quantitative", "scale": {"type": "log", "domain": [1, 158.5], "nice": false}, "axis": {"orient": "bottom", "values": [1, 10, 100], "labelExpr": "datum.value < 5 ? '10⁰' : datum.value < 50 ? '10¹' : '10²'", "ticks": false, "tickSize": 0, "labelPadding": 12, "title": "k", "titlePadding": 4}},
     "y": {"field": "cr", "type": "quantitative", "scale": {"type": "log", "domain": [0.001, 1], "nice": false}, "axis": {"orient": "left", "values": [0.001, 0.01, 0.1, 1], "labelExpr": "datum.value > 0.5 ? '10⁰' : datum.value > 0.05 ? '10⁻¹' : datum.value > 0.005 ? '10⁻²' : '10⁻³'", "ticks": false, "tickSize": 0, "labelPadding": 6, "title": "⟨ Δ θ²(k) ⟩ₜ", "titlePadding": 10}}}},
   {"data": {"name": "cur0"}, "mark": {"type": "line", "clip": true, "color": "#d8ac3c", "strokeWidth": 1.3},
    "encoding": {"x": {"field": "k", "type": "quantitative", "scale": {"type": "log", "domain": [1, 158.5], "nice": false}, "axis": {"orient": "top", "offset": -393, "values": [1,2,3,4,5,6,7,8,9,10,20,30,40,50,60,70,80,90,100], "labels": false, "tickSize": 7, "title": null}},
     "y": {"field": "cy", "type": "quantitative", "scale": {"type": "log", "domain": [0.001, 1], "nice": false}, "axis": {"orient": "right", "offset": -518, "values": [0.001,0.002,0.003,0.004,0.005,0.006,0.007,0.008,0.009,0.01,0.02,0.03,0.04,0.05,0.06,0.07,0.08,0.09,0.1,0.2,0.3,0.4,0.5,0.6,0.7,0.8,0.9,1], "labels": false, "tickSize": 7, "title": null}}}},
   {"data": {"name": "cur0"}, "mark": {"type": "line", "clip": true, "color": "black", "strokeWidth": 1.3},
    "encoding": {"x": {"field": "k", "type": "quantitative", "scale": {"type": "log", "domain": [1, 158.5], "nice": false}, "axis": {"orient": "bottom", "offset": -393, "values": [1,2,3,4,5,6,7,8,9,10,20,30,40,50,60,70,80,90,100], "labels": false, "tickSize": 7, "title": null}},
     "y": {"field": "cb", "type": "quantitative", "scale": {"type": "log", "domain": [0.001, 1], "nice": false}, "axis": {"orient": "left", "offset": -518, "values": [0.001,0.002,0.003,0.004,0.005,0.006,0.007,0.008,0.009,0.01,0.02,0.03,0.04,0.05,0.06,0.07,0.08,0.09,0.1,0.2,0.3,0.4,0.5,0.6,0.7,0.8,0.9,1], "labels": false, "tickSize": 7, "title": null}}}},
   {"data": {"name": "tri"}, "mark": {"type": "point", "shape": "triangle-up", "filled": false, "size": 800, "strokeWidth": 1.3, "opacity": 1},
    "encoding": {"x": {"field": "k", "type": "quantitative", "scale": {"type": "log", "domain": [1, 158.5], "nice": false}, "axis": null}, "y": {"field": "c", "type": "quantitative", "scale": {"type": "log", "domain": [0.001, 1], "nice": false}, "axis": null},
     "color": {"field": "k", "type": "quantitative", "scale": {"type": "log", "domain": [8, 110], "range": ["#d4b650", "#f39a0c"]}, "legend": null}}},
   {"data": {"name": "circ"}, "mark": {"type": "point", "shape": "circle", "filled": false, "size": 620, "strokeWidth": 1.3, "opacity": 1},
    "encoding": {"x": {"field": "k", "type": "quantitative", "scale": {"type": "log", "domain": [1, 158.5], "nice": false}, "axis": null}, "y": {"field": "c", "type": "quantitative", "scale": {"type": "log", "domain": [0.001, 1], "nice": false}, "axis": null},
     "stroke": {"field": "k", "type": "quantitative", "scale": {"domain": [6, 28], "range": ["#a82a45", "#e8141c"]}, "legend": null}}},
   {"data": {"name": "btri"}, "mark": {"type": "point", "shape": "triangle-down", "filled": false, "size": 800, "strokeWidth": 1.3, "color": "black", "opacity": 1},
    "encoding": {"x": {"field": "k", "type": "quantitative", "scale": {"type": "log", "domain": [1, 158.5], "nice": false}, "axis": null}, "y": {"field": "c", "type": "quantitative", "scale": {"type": "log", "domain": [0.001, 1], "nice": false}, "axis": null}}},
   {"data": {"values": [{"t": "(c)"}]}, "mark": {"type": "text", "font": "Liberation Sans", "fontSize": 25, "color": "black"},
    "encoding": {"x": {"datum": 99, "type": "quantitative", "scale": {"type": "log", "domain": [1, 158.5], "nice": false}, "axis": null}, "y": {"datum": 0.55, "type": "quantitative", "scale": {"type": "log", "domain": [0.001, 1], "nice": false}, "axis": null}, "text": {"field": "t"}}}
  ]},

 {"width": 1, "height": 1, "data": {"values": []}, "mark": "point"},
 {"width": 1, "height": 1, "data": {"values": []}, "mark": "point"},
 {"width": 1, "height": 1, "data": {"values": []}, "mark": "point"},
 {"width": 128, "height": 103, "data": {"values": [{}]}, "mark": {"type": "rule", "color": "#555555", "strokeWidth": 1.5, "strokeDash": [14, 12]}, "encoding": {"x": {"datum": 0, "type": "quantitative", "scale": {"domain": [0, 1]}, "axis": null}}},
 {"width": 1, "height": 1, "data": {"values": []}, "mark": "point"},
 {"width": 126, "height": 103, "data": {"values": [{}]}, "mark": {"type": "rule", "color": "#555555", "strokeWidth": 1.5, "strokeDash": [14, 12]}, "encoding": {"x": {"datum": 0, "type": "quantitative", "scale": {"domain": [0, 1]}, "axis": null}}},
 {"width": 1, "height": 1, "data": {"values": []}, "mark": "point"},

 {"width": 168, "height": 1, "data": {"values": [{}]}, "mark": {"type": "rule", "color": "#555555", "strokeWidth": 1.5, "strokeDash": [14, 12]}, "encoding": {"y": {"datum": 0, "type": "quantitative", "scale": {"domain": [0, 1]}, "axis": null}}},
 {"width": 120, "height": 1, "data": {"values": [{}]}, "mark": {"type": "rule", "color": "#555555", "strokeWidth": 1.5, "strokeDash": [14, 12]}, "encoding": {"y": {"datum": 0, "type": "quantitative", "scale": {"domain": [0, 1]}, "axis": null}}},
 {"width": 554, "height": 1, "data": {"values": [{}]}, "mark": {"type": "rule", "color": "#555555", "strokeWidth": 1.5, "strokeDash": [14, 12]}, "encoding": {"y": {"datum": 0, "type": "quantitative", "scale": {"domain": [0, 1]}, "axis": null}}},
 {"width": 128, "height": 1, "data": {"values": [{}]}, "mark": {"type": "rule", "color": "#555555", "strokeWidth": 1.5, "strokeDash": [14, 12]}, "encoding": {"y": {"datum": 0, "type": "quantitative", "scale": {"domain": [0, 1]}, "axis": null}}},
 {"width": 554, "height": 1, "data": {"values": [{}]}, "mark": {"type": "rule", "color": "#555555", "strokeWidth": 1.5, "strokeDash": [14, 12]}, "encoding": {"y": {"datum": 0, "type": "quantitative", "scale": {"domain": [0, 1]}, "axis": null}}},
 {"width": 126, "height": 1, "data": {"values": [{}]}, "mark": {"type": "rule", "color": "#555555", "strokeWidth": 1.5, "strokeDash": [14, 12]}, "encoding": {"y": {"datum": 0, "type": "quantitative", "scale": {"domain": [0, 1]}, "axis": null}}},
 {"width": 559, "height": 1, "data": {"values": [{}]}, "mark": {"type": "rule", "color": "#555555", "strokeWidth": 1.5, "strokeDash": [14, 12]}, "encoding": {"y": {"datum": 0, "type": "quantitative", "scale": {"domain": [0, 1]}, "axis": null}}},

 {"width": 1, "height": 1, "data": {"values": []}, "mark": "point"},
 {"width": 1, "height": 1, "data": {"values": []}, "mark": "point"},
 {"width": 1, "height": 1, "data": {"values": []}, "mark": "point"},
 {"width": 128, "height": 50, "data": {"values": [{}]}, "mark": {"type": "rule", "color": "#555555", "strokeWidth": 1.5, "strokeDash": [14, 12]}, "encoding": {"x": {"datum": 0, "type": "quantitative", "scale": {"domain": [0, 1]}, "axis": null}}},
 {"width": 1, "height": 1, "data": {"values": []}, "mark": "point"},
 {"width": 126, "height": 50, "data": {"values": [{}]}, "mark": {"type": "rule", "color": "#555555", "strokeWidth": 1.5, "strokeDash": [14, 12]}, "encoding": {"x": {"datum": 0, "type": "quantitative", "scale": {"domain": [0, 1]}, "axis": null}}},
 {"width": 1, "height": 1, "data": {"values": []}, "mark": "point"},

 {"width": 168, "height": 393, "data": {"values": [{"t": "β = 1"}]}, "mark": {"type": "text", "font": "Liberation Serif", "fontSize": 44, "color": "black"}, "encoding": {"text": {"field": "t"}}},
 {"width": 1, "height": 1, "data": {"values": []}, "mark": "point"},
 {"width": 518, "height": 393, "view": {"stroke": "black", "strokeWidth": 1.5},
  "resolve": {"axis": {"x": "independent", "y": "independent"}},
  "layer": [
   {"data": {"name": "cur1"}, "mark": {"type": "line", "clip": true, "color": "#a8343f", "strokeWidth": 1.3},
    "encoding": {"x": {"field": "k", "type": "quantitative", "scale": {"type": "log", "domain": [1, 158.5], "nice": false}, "axis": {"orient": "bottom", "values": [1, 10, 100], "labelExpr": "datum.value < 5 ? '10⁰' : datum.value < 50 ? '10¹' : '10²'", "ticks": false, "tickSize": 0, "labelPadding": 12, "title": "k", "titlePadding": 4}},
     "y": {"field": "dr", "type": "quantitative", "scale": {"type": "log", "domain": [0.001, 1], "nice": false}, "axis": {"orient": "left", "values": [0.001, 0.01, 0.1, 1], "labelExpr": "datum.value > 0.5 ? '10⁰' : datum.value > 0.05 ? '10⁻¹' : datum.value > 0.005 ? '10⁻²' : '10⁻³'", "ticks": false, "tickSize": 0, "labelPadding": 6, "title": "⟨ Δ x²(k) ⟩ₜ", "titlePadding": 10}}}},
   {"data": {"name": "cur1"}, "mark": {"type": "line", "clip": true, "color": "#d8ac3c", "strokeWidth": 1.3},
    "encoding": {"x": {"field": "k", "type": "quantitative", "scale": {"type": "log", "domain": [1, 158.5], "nice": false}, "axis": {"orient": "top", "offset": -393, "values": [1,2,3,4,5,6,7,8,9,10,20,30,40,50,60,70,80,90,100], "labels": false, "tickSize": 7, "title": null}},
     "y": {"field": "dy", "type": "quantitative", "scale": {"type": "log", "domain": [0.001, 1], "nice": false}, "axis": {"orient": "right", "offset": -518, "values": [0.001,0.002,0.003,0.004,0.005,0.006,0.007,0.008,0.009,0.01,0.02,0.03,0.04,0.05,0.06,0.07,0.08,0.09,0.1,0.2,0.3,0.4,0.5,0.6,0.7,0.8,0.9,1], "labels": false, "tickSize": 7, "title": null}}}},
   {"data": {"name": "cur1"}, "mark": {"type": "line", "clip": true, "color": "black", "strokeWidth": 1.3},
    "encoding": {"x": {"field": "k", "type": "quantitative", "scale": {"type": "log", "domain": [1, 158.5], "nice": false}, "axis": {"orient": "bottom", "offset": -393, "values": [1,2,3,4,5,6,7,8,9,10,20,30,40,50,60,70,80,90,100], "labels": false, "tickSize": 7, "title": null}},
     "y": {"field": "db", "type": "quantitative", "scale": {"type": "log", "domain": [0.001, 1], "nice": false}, "axis": {"orient": "left", "offset": -518, "values": [0.001,0.002,0.003,0.004,0.005,0.006,0.007,0.008,0.009,0.01,0.02,0.03,0.04,0.05,0.06,0.07,0.08,0.09,0.1,0.2,0.3,0.4,0.5,0.6,0.7,0.8,0.9,1], "labels": false, "tickSize": 7, "title": null}}}},
   {"data": {"name": "tri"}, "mark": {"type": "point", "shape": "triangle-up", "filled": false, "size": 800, "strokeWidth": 1.3, "opacity": 1},
    "encoding": {"x": {"field": "k", "type": "quantitative", "scale": {"type": "log", "domain": [1, 158.5], "nice": false}, "axis": null}, "y": {"field": "d", "type": "quantitative", "scale": {"type": "log", "domain": [0.001, 1], "nice": false}, "axis": null},
     "color": {"field": "k", "type": "quantitative", "scale": {"type": "log", "domain": [8, 110], "range": ["#d4b650", "#f39a0c"]}, "legend": null}}},
   {"data": {"name": "circ"}, "mark": {"type": "point", "shape": "circle", "filled": false, "size": 620, "strokeWidth": 1.3, "opacity": 1},
    "encoding": {"x": {"field": "k", "type": "quantitative", "scale": {"type": "log", "domain": [1, 158.5], "nice": false}, "axis": null}, "y": {"field": "d", "type": "quantitative", "scale": {"type": "log", "domain": [0.001, 1], "nice": false}, "axis": null},
     "stroke": {"field": "k", "type": "quantitative", "scale": {"domain": [6, 28], "range": ["#a82a45", "#e8141c"]}, "legend": null}}},
   {"data": {"name": "btri"}, "mark": {"type": "point", "shape": "triangle-down", "filled": false, "size": 800, "strokeWidth": 1.3, "color": "black", "opacity": 1},
    "encoding": {"x": {"field": "k", "type": "quantitative", "scale": {"type": "log", "domain": [1, 158.5], "nice": false}, "axis": null}, "y": {"field": "d", "type": "quantitative", "scale": {"type": "log", "domain": [0.001, 1], "nice": false}, "axis": null}}},
   {"data": {"values": [{"t": "(d)"}]}, "mark": {"type": "text", "font": "Liberation Sans", "fontSize": 25, "color": "black"},
    "encoding": {"x": {"datum": 99, "type": "quantitative", "scale": {"type": "log", "domain": [1, 158.5], "nice": false}, "axis": null}, "y": {"datum": 0.55, "type": "quantitative", "scale": {"type": "log", "domain": [0.001, 1], "nice": false}, "axis": null}, "text": {"field": "t"}}}
  ]},
 {"width": 128, "height": 393, "data": {"values": [{}]}, "mark": {"type": "rule", "color": "#555555", "strokeWidth": 1.5, "strokeDash": [14, 12]}, "encoding": {"x": {"datum": 0, "type": "quantitative", "scale": {"domain": [0, 1]}, "axis": null}}},
 {"width": 518, "height": 393, "view": {"stroke": "black", "strokeWidth": 1.5},
  "resolve": {"axis": {"x": "independent", "y": "independent"}},
  "layer": [
   {"data": {"name": "cur1"}, "mark": {"type": "line", "clip": true, "color": "#a8343f", "strokeWidth": 1.3},
    "encoding": {"x": {"field": "k", "type": "quantitative", "scale": {"type": "log", "domain": [1, 158.5], "nice": false}, "axis": {"orient": "bottom", "values": [1, 10, 100], "labelExpr": "datum.value < 5 ? '10⁰' : datum.value < 50 ? '10¹' : '10²'", "ticks": false, "tickSize": 0, "labelPadding": 12, "title": "k", "titlePadding": 4}},
     "y": {"field": "er", "type": "quantitative", "scale": {"type": "log", "domain": [0.001, 1], "nice": false}, "axis": {"orient": "left", "values": [0.001, 0.01, 0.1, 1], "labelExpr": "datum.value > 0.5 ? '10⁰' : datum.value > 0.05 ? '10⁻¹' : datum.value > 0.005 ? '10⁻²' : '10⁻³'", "ticks": false, "tickSize": 0, "labelPadding": 6, "title": "⟨ Δ x²(k) ⟩ₜ", "titlePadding": 10}}}},
   {"data": {"name": "cur1"}, "mark": {"type": "line", "clip": true, "color": "#d8ac3c", "strokeWidth": 1.3},
    "encoding": {"x": {"field": "k", "type": "quantitative", "scale": {"type": "log", "domain": [1, 158.5], "nice": false}, "axis": {"orient": "top", "offset": -393, "values": [1,2,3,4,5,6,7,8,9,10,20,30,40,50,60,70,80,90,100], "labels": false, "tickSize": 7, "title": null}},
     "y": {"field": "ey", "type": "quantitative", "scale": {"type": "log", "domain": [0.001, 1], "nice": false}, "axis": {"orient": "right", "offset": -518, "values": [0.001,0.002,0.003,0.004,0.005,0.006,0.007,0.008,0.009,0.01,0.02,0.03,0.04,0.05,0.06,0.07,0.08,0.09,0.1,0.2,0.3,0.4,0.5,0.6,0.7,0.8,0.9,1], "labels": false, "tickSize": 7, "title": null}}}},
   {"data": {"name": "cur1"}, "mark": {"type": "line", "clip": true, "color": "black", "strokeWidth": 1.3},
    "encoding": {"x": {"field": "k", "type": "quantitative", "scale": {"type": "log", "domain": [1, 158.5], "nice": false}, "axis": {"orient": "bottom", "offset": -393, "values": [1,2,3,4,5,6,7,8,9,10,20,30,40,50,60,70,80,90,100], "labels": false, "tickSize": 7, "title": null}},
     "y": {"field": "eb", "type": "quantitative", "scale": {"type": "log", "domain": [0.001, 1], "nice": false}, "axis": {"orient": "left", "offset": -518, "values": [0.001,0.002,0.003,0.004,0.005,0.006,0.007,0.008,0.009,0.01,0.02,0.03,0.04,0.05,0.06,0.07,0.08,0.09,0.1,0.2,0.3,0.4,0.5,0.6,0.7,0.8,0.9,1], "labels": false, "tickSize": 7, "title": null}}}},
   {"data": {"name": "tri"}, "mark": {"type": "point", "shape": "triangle-up", "filled": false, "size": 800, "strokeWidth": 1.3, "opacity": 1},
    "encoding": {"x": {"field": "k", "type": "quantitative", "scale": {"type": "log", "domain": [1, 158.5], "nice": false}, "axis": null}, "y": {"field": "e", "type": "quantitative", "scale": {"type": "log", "domain": [0.001, 1], "nice": false}, "axis": null},
     "color": {"field": "k", "type": "quantitative", "scale": {"type": "log", "domain": [8, 110], "range": ["#d4b650", "#f39a0c"]}, "legend": null}}},
   {"data": {"name": "circ"}, "mark": {"type": "point", "shape": "circle", "filled": false, "size": 620, "strokeWidth": 1.3, "opacity": 1},
    "encoding": {"x": {"field": "k", "type": "quantitative", "scale": {"type": "log", "domain": [1, 158.5], "nice": false}, "axis": null}, "y": {"field": "e", "type": "quantitative", "scale": {"type": "log", "domain": [0.001, 1], "nice": false}, "axis": null},
     "stroke": {"field": "k", "type": "quantitative", "scale": {"domain": [6, 28], "range": ["#a82a45", "#e8141c"]}, "legend": null}}},
   {"data": {"name": "btri"}, "mark": {"type": "point", "shape": "triangle-down", "filled": false, "size": 800, "strokeWidth": 1.3, "color": "black", "opacity": 1},
    "encoding": {"x": {"field": "k", "type": "quantitative", "scale": {"type": "log", "domain": [1, 158.5], "nice": false}, "axis": null}, "y": {"field": "e", "type": "quantitative", "scale": {"type": "log", "domain": [0.001, 1], "nice": false}, "axis": null}}},
   {"data": {"values": [{"t": "(e)"}]}, "mark": {"type": "text", "font": "Liberation Sans", "fontSize": 25, "color": "black"},
    "encoding": {"x": {"datum": 99, "type": "quantitative", "scale": {"type": "log", "domain": [1, 158.5], "nice": false}, "axis": null}, "y": {"datum": 0.55, "type": "quantitative", "scale": {"type": "log", "domain": [0.001, 1], "nice": false}, "axis": null}, "text": {"field": "t"}}}
  ]},
 {"width": 126, "height": 393, "data": {"values": [{}]}, "mark": {"type": "rule", "color": "#555555", "strokeWidth": 1.5, "strokeDash": [14, 12]}, "encoding": {"x": {"datum": 0, "type": "quantitative", "scale": {"domain": [0, 1]}, "axis": null}}},
 {"width": 518, "height": 393, "view": {"stroke": "black", "strokeWidth": 1.5},
  "resolve": {"axis": {"x": "independent", "y": "independent"}},
  "layer": [
   {"data": {"name": "cur1"}, "mark": {"type": "line", "clip": true, "color": "#a8343f", "strokeWidth": 1.3},
    "encoding": {"x": {"field": "k", "type": "quantitative", "scale": {"type": "log", "domain": [1, 158.5], "nice": false}, "axis": {"orient": "bottom", "values": [1, 10, 100], "labelExpr": "datum.value < 5 ? '10⁰' : datum.value < 50 ? '10¹' : '10²'", "ticks": false, "tickSize": 0, "labelPadding": 12, "title": "k", "titlePadding": 4}},
     "y": {"field": "fr", "type": "quantitative", "scale": {"type": "log", "domain": [0.001, 1], "nice": false}, "axis": {"orient": "left", "values": [0.001, 0.01, 0.1, 1], "labelExpr": "datum.value > 0.5 ? '10⁰' : datum.value > 0.05 ? '10⁻¹' : datum.value > 0.005 ? '10⁻²' : '10⁻³'", "ticks": false, "tickSize": 0, "labelPadding": 6, "title": "⟨ Δ θ²(k) ⟩ₜ", "titlePadding": 10}}}},
   {"data": {"name": "cur1"}, "mark": {"type": "line", "clip": true, "color": "#d8ac3c", "strokeWidth": 1.3},
    "encoding": {"x": {"field": "k", "type": "quantitative", "scale": {"type": "log", "domain": [1, 158.5], "nice": false}, "axis": {"orient": "top", "offset": -393, "values": [1,2,3,4,5,6,7,8,9,10,20,30,40,50,60,70,80,90,100], "labels": false, "tickSize": 7, "title": null}},
     "y": {"field": "fy", "type": "quantitative", "scale": {"type": "log", "domain": [0.001, 1], "nice": false}, "axis": {"orient": "right", "offset": -518, "values": [0.001,0.002,0.003,0.004,0.005,0.006,0.007,0.008,0.009,0.01,0.02,0.03,0.04,0.05,0.06,0.07,0.08,0.09,0.1,0.2,0.3,0.4,0.5,0.6,0.7,0.8,0.9,1], "labels": false, "tickSize": 7, "title": null}}}},
   {"data": {"name": "cur1"}, "mark": {"type": "line", "clip": true, "color": "black", "strokeWidth": 1.3},
    "encoding": {"x": {"field": "k", "type": "quantitative", "scale": {"type": "log", "domain": [1, 158.5], "nice": false}, "axis": {"orient": "bottom", "offset": -393, "values": [1,2,3,4,5,6,7,8,9,10,20,30,40,50,60,70,80,90,100], "labels": false, "tickSize": 7, "title": null}},
     "y": {"field": "fb", "type": "quantitative", "scale": {"type": "log", "domain": [0.001, 1], "nice": false}, "axis": {"orient": "left", "offset": -518, "values": [0.001,0.002,0.003,0.004,0.005,0.006,0.007,0.008,0.009,0.01,0.02,0.03,0.04,0.05,0.06,0.07,0.08,0.09,0.1,0.2,0.3,0.4,0.5,0.6,0.7,0.8,0.9,1], "labels": false, "tickSize": 7, "title": null}}}},
   {"data": {"name": "tri"}, "mark": {"type": "point", "shape": "triangle-up", "filled": false, "size": 800, "strokeWidth": 1.3, "opacity": 1},
    "encoding": {"x": {"field": "k", "type": "quantitative", "scale": {"type": "log", "domain": [1, 158.5], "nice": false}, "axis": null}, "y": {"field": "f", "type": "quantitative", "scale": {"type": "log", "domain": [0.001, 1], "nice": false}, "axis": null},
     "color": {"field": "k", "type": "quantitative", "scale": {"type": "log", "domain": [8, 110], "range": ["#d4b650", "#f39a0c"]}, "legend": null}}},
   {"data": {"name": "circ"}, "mark": {"type": "point", "shape": "circle", "filled": false, "size": 620, "strokeWidth": 1.3, "opacity": 1},
    "encoding": {"x": {"field": "k", "type": "quantitative", "scale": {"type": "log", "domain": [1, 158.5], "nice": false}, "axis": null}, "y": {"field": "f", "type": "quantitative", "scale": {"type": "log", "domain": [0.001, 1], "nice": false}, "axis": null},
     "stroke": {"field": "k", "type": "quantitative", "scale": {"domain": [6, 28], "range": ["#a82a45", "#e8141c"]}, "legend": null}}},
   {"data": {"name": "btri"}, "mark": {"type": "point", "shape": "triangle-down", "filled": false, "size": 800, "strokeWidth": 1.3, "color": "black", "opacity": 1},
    "encoding": {"x": {"field": "k", "type": "quantitative", "scale": {"type": "log", "domain": [1, 158.5], "nice": false}, "axis": null}, "y": {"field": "f", "type": "quantitative", "scale": {"type": "log", "domain": [0.001, 1], "nice": false}, "axis": null}}},
   {"data": {"values": [{"t": "(f)"}]}, "mark": {"type": "text", "font": "Liberation Sans", "fontSize": 25, "color": "black"},
    "encoding": {"x": {"datum": 99, "type": "quantitative", "scale": {"type": "log", "domain": [1, 158.5], "nice": false}, "axis": null}, "y": {"datum": 0.55, "type": "quantitative", "scale": {"type": "log", "domain": [0.001, 1], "nice": false}, "axis": null}, "text": {"field": "t"}}}
  ]},

 {"width": 1, "height": 1, "data": {"values": []}, "mark": "point"},
 {"width": 1, "height": 1, "data": {"values": []}, "mark": "point"},
 {"width": 1, "height": 1, "data": {"values": []}, "mark": "point"},
 {"width": 128, "height": 111, "data": {"values": [{}]}, "mark": {"type": "rule", "color": "#555555", "strokeWidth": 1.5, "strokeDash": [14, 12]}, "encoding": {"x": {"datum": 0, "type": "quantitative", "scale": {"domain": [0, 1]}, "axis": null}}},
 {"width": 1, "height": 1, "data": {"values": []}, "mark": "point"},
 {"width": 126, "height": 111, "data": {"values": [{}]}, "mark": {"type": "rule", "color": "#555555", "strokeWidth": 1.5, "strokeDash": [14, 12]}, "encoding": {"x": {"datum": 0, "type": "quantitative", "scale": {"domain": [0, 1]}, "axis": null}}},
 {"width": 1, "height": 1, "data": {"values": []}, "mark": "point"},

 {"width": 168, "height": 1, "data": {"values": [{}]}, "mark": {"type": "rule", "color": "#555555", "strokeWidth": 1.5, "strokeDash": [14, 12]}, "encoding": {"y": {"datum": 0, "type": "quantitative", "scale": {"domain": [0, 1]}, "axis": null}}},
 {"width": 120, "height": 1, "data": {"values": [{}]}, "mark": {"type": "rule", "color": "#555555", "strokeWidth": 1.5, "strokeDash": [14, 12]}, "encoding": {"y": {"datum": 0, "type": "quantitative", "scale": {"domain": [0, 1]}, "axis": null}}},
 {"width": 554, "height": 1, "data": {"values": [{}]}, "mark": {"type": "rule", "color": "#555555", "strokeWidth": 1.5, "strokeDash": [14, 12]}, "encoding": {"y": {"datum": 0, "type": "quantitative", "scale": {"domain": [0, 1]}, "axis": null}}},
 {"width": 128, "height": 1, "data": {"values": [{}]}, "mark": {"type": "rule", "color": "#555555", "strokeWidth": 1.5, "strokeDash": [14, 12]}, "encoding": {"y": {"datum": 0, "type": "quantitative", "scale": {"domain": [0, 1]}, "axis": null}}},
 {"width": 554, "height": 1, "data": {"values": [{}]}, "mark": {"type": "rule", "color": "#555555", "strokeWidth": 1.5, "strokeDash": [14, 12]}, "encoding": {"y": {"datum": 0, "type": "quantitative", "scale": {"domain": [0, 1]}, "axis": null}}},
 {"width": 126, "height": 1, "data": {"values": [{}]}, "mark": {"type": "rule", "color": "#555555", "strokeWidth": 1.5, "strokeDash": [14, 12]}, "encoding": {"y": {"datum": 0, "type": "quantitative", "scale": {"domain": [0, 1]}, "axis": null}}},
 {"width": 559, "height": 1, "data": {"values": [{}]}, "mark": {"type": "rule", "color": "#555555", "strokeWidth": 1.5, "strokeDash": [14, 12]}, "encoding": {"y": {"datum": 0, "type": "quantitative", "scale": {"domain": [0, 1]}, "axis": null}}},

 {"width": 1, "height": 1, "data": {"values": []}, "mark": "point"},
 {"width": 1, "height": 1, "data": {"values": []}, "mark": "point"},
 {"width": 1, "height": 1, "data": {"values": []}, "mark": "point"},
 {"width": 128, "height": 41, "data": {"values": [{}]}, "mark": {"type": "rule", "color": "#555555", "strokeWidth": 1.5, "strokeDash": [14, 12]}, "encoding": {"x": {"datum": 0, "type": "quantitative", "scale": {"domain": [0, 1]}, "axis": null}}},
 {"width": 1, "height": 1, "data": {"values": []}, "mark": "point"},
 {"width": 126, "height": 41, "data": {"values": [{}]}, "mark": {"type": "rule", "color": "#555555", "strokeWidth": 1.5, "strokeDash": [14, 12]}, "encoding": {"x": {"datum": 0, "type": "quantitative", "scale": {"domain": [0, 1]}, "axis": null}}},
 {"width": 1, "height": 1, "data": {"values": []}, "mark": "point"},

 {"width": 168, "height": 393, "data": {"values": [{"t": "β = 2"}]}, "mark": {"type": "text", "font": "Liberation Serif", "fontSize": 44, "color": "black"}, "encoding": {"text": {"field": "t"}}},
 {"width": 1, "height": 1, "data": {"values": []}, "mark": "point"},
 {"width": 518, "height": 393, "view": {"stroke": "black", "strokeWidth": 1.5},
  "resolve": {"axis": {"x": "independent", "y": "independent"}},
  "layer": [
   {"data": {"name": "cur2"}, "mark": {"type": "line", "clip": true, "color": "#a8343f", "strokeWidth": 1.3},
    "encoding": {"x": {"field": "k", "type": "quantitative", "scale": {"type": "log", "domain": [1, 158.5], "nice": false}, "axis": {"orient": "bottom", "values": [1, 10, 100], "labelExpr": "datum.value < 5 ? '10⁰' : datum.value < 50 ? '10¹' : '10²'", "ticks": false, "tickSize": 0, "labelPadding": 12, "title": "k", "titlePadding": 4}},
     "y": {"field": "gr", "type": "quantitative", "scale": {"type": "log", "domain": [0.001, 1], "nice": false}, "axis": {"orient": "left", "values": [0.001, 0.01, 0.1, 1], "labelExpr": "datum.value > 0.5 ? '10⁰' : datum.value > 0.05 ? '10⁻¹' : datum.value > 0.005 ? '10⁻²' : '10⁻³'", "ticks": false, "tickSize": 0, "labelPadding": 6, "title": "⟨ Δ x²(k) ⟩ₜ", "titlePadding": 10}}}},
   {"data": {"name": "cur2"}, "mark": {"type": "line", "clip": true, "color": "#d8ac3c", "strokeWidth": 1.3},
    "encoding": {"x": {"field": "k", "type": "quantitative", "scale": {"type": "log", "domain": [1, 158.5], "nice": false}, "axis": {"orient": "top", "offset": -393, "values": [1,2,3,4,5,6,7,8,9,10,20,30,40,50,60,70,80,90,100], "labels": false, "tickSize": 7, "title": null}},
     "y": {"field": "gy", "type": "quantitative", "scale": {"type": "log", "domain": [0.001, 1], "nice": false}, "axis": {"orient": "right", "offset": -518, "values": [0.001,0.002,0.003,0.004,0.005,0.006,0.007,0.008,0.009,0.01,0.02,0.03,0.04,0.05,0.06,0.07,0.08,0.09,0.1,0.2,0.3,0.4,0.5,0.6,0.7,0.8,0.9,1], "labels": false, "tickSize": 7, "title": null}}}},
   {"data": {"name": "cur2"}, "mark": {"type": "line", "clip": true, "color": "black", "strokeWidth": 1.3},
    "encoding": {"x": {"field": "k", "type": "quantitative", "scale": {"type": "log", "domain": [1, 158.5], "nice": false}, "axis": {"orient": "bottom", "offset": -393, "values": [1,2,3,4,5,6,7,8,9,10,20,30,40,50,60,70,80,90,100], "labels": false, "tickSize": 7, "title": null}},
     "y": {"field": "gb", "type": "quantitative", "scale": {"type": "log", "domain": [0.001, 1], "nice": false}, "axis": {"orient": "left", "offset": -518, "values": [0.001,0.002,0.003,0.004,0.005,0.006,0.007,0.008,0.009,0.01,0.02,0.03,0.04,0.05,0.06,0.07,0.08,0.09,0.1,0.2,0.3,0.4,0.5,0.6,0.7,0.8,0.9,1], "labels": false, "tickSize": 7, "title": null}}}},
   {"data": {"name": "tri"}, "mark": {"type": "point", "shape": "triangle-up", "filled": false, "size": 800, "strokeWidth": 1.3, "opacity": 1},
    "encoding": {"x": {"field": "k", "type": "quantitative", "scale": {"type": "log", "domain": [1, 158.5], "nice": false}, "axis": null}, "y": {"field": "g", "type": "quantitative", "scale": {"type": "log", "domain": [0.001, 1], "nice": false}, "axis": null},
     "color": {"field": "k", "type": "quantitative", "scale": {"type": "log", "domain": [8, 110], "range": ["#d4b650", "#f39a0c"]}, "legend": null}}},
   {"data": {"name": "circ"}, "mark": {"type": "point", "shape": "circle", "filled": false, "size": 620, "strokeWidth": 1.3, "opacity": 1},
    "encoding": {"x": {"field": "k", "type": "quantitative", "scale": {"type": "log", "domain": [1, 158.5], "nice": false}, "axis": null}, "y": {"field": "g", "type": "quantitative", "scale": {"type": "log", "domain": [0.001, 1], "nice": false}, "axis": null},
     "stroke": {"field": "k", "type": "quantitative", "scale": {"domain": [6, 28], "range": ["#a82a45", "#e8141c"]}, "legend": null}}},
   {"data": {"name": "btri"}, "mark": {"type": "point", "shape": "triangle-down", "filled": false, "size": 800, "strokeWidth": 1.3, "color": "black", "opacity": 1},
    "encoding": {"x": {"field": "k", "type": "quantitative", "scale": {"type": "log", "domain": [1, 158.5], "nice": false}, "axis": null}, "y": {"field": "g", "type": "quantitative", "scale": {"type": "log", "domain": [0.001, 1], "nice": false}, "axis": null}}},
   {"data": {"values": [{"t": "(g)"}]}, "mark": {"type": "text", "font": "Liberation Sans", "fontSize": 25, "color": "black"},
    "encoding": {"x": {"datum": 1.4, "type": "quantitative", "scale": {"type": "log", "domain": [1, 158.5], "nice": false}, "axis": null}, "y": {"datum": 0.57, "type": "quantitative", "scale": {"type": "log", "domain": [0.001, 1], "nice": false}, "axis": null}, "text": {"field": "t"}}}
  ]},
 {"width": 128, "height": 393, "data": {"values": [{}]}, "mark": {"type": "rule", "color": "#555555", "strokeWidth": 1.5, "strokeDash": [14, 12]}, "encoding": {"x": {"datum": 0, "type": "quantitative", "scale": {"domain": [0, 1]}, "axis": null}}},
 {"width": 518, "height": 393, "view": {"stroke": "black", "strokeWidth": 1.5},
  "resolve": {"axis": {"x": "independent", "y": "independent"}},
  "layer": [
   {"data": {"name": "cur2"}, "mark": {"type": "line", "clip": true, "color": "#a8343f", "strokeWidth": 1.3},
    "encoding": {"x": {"field": "k", "type": "quantitative", "scale": {"type": "log", "domain": [1, 158.5], "nice": false}, "axis": {"orient": "bottom", "values": [1, 10, 100], "labelExpr": "datum.value < 5 ? '10⁰' : datum.value < 50 ? '10¹' : '10²'", "ticks": false, "tickSize": 0, "labelPadding": 12, "title": "k", "titlePadding": 4}},
     "y": {"field": "hr", "type": "quantitative", "scale": {"type": "log", "domain": [0.001, 1], "nice": false}, "axis": {"orient": "left", "values": [0.001, 0.01, 0.1, 1], "labelExpr": "datum.value > 0.5 ? '10⁰' : datum.value > 0.05 ? '10⁻¹' : datum.value > 0.005 ? '10⁻²' : '10⁻³'", "ticks": false, "tickSize": 0, "labelPadding": 6, "title": "⟨ Δ x²(k) ⟩ₜ", "titlePadding": 10}}}},
   {"data": {"name": "cur2"}, "mark": {"type": "line", "clip": true, "color": "#d8ac3c", "strokeWidth": 1.3},
    "encoding": {"x": {"field": "k", "type": "quantitative", "scale": {"type": "log", "domain": [1, 158.5], "nice": false}, "axis": {"orient": "top", "offset": -393, "values": [1,2,3,4,5,6,7,8,9,10,20,30,40,50,60,70,80,90,100], "labels": false, "tickSize": 7, "title": null}},
     "y": {"field": "hy", "type": "quantitative", "scale": {"type": "log", "domain": [0.001, 1], "nice": false}, "axis": {"orient": "right", "offset": -518, "values": [0.001,0.002,0.003,0.004,0.005,0.006,0.007,0.008,0.009,0.01,0.02,0.03,0.04,0.05,0.06,0.07,0.08,0.09,0.1,0.2,0.3,0.4,0.5,0.6,0.7,0.8,0.9,1], "labels": false, "tickSize": 7, "title": null}}}},
   {"data": {"name": "cur2"}, "mark": {"type": "line", "clip": true, "color": "black", "strokeWidth": 1.3},
    "encoding": {"x": {"field": "k", "type": "quantitative", "scale": {"type": "log", "domain": [1, 158.5], "nice": false}, "axis": {"orient": "bottom", "offset": -393, "values": [1,2,3,4,5,6,7,8,9,10,20,30,40,50,60,70,80,90,100], "labels": false, "tickSize": 7, "title": null}},
     "y": {"field": "hb", "type": "quantitative", "scale": {"type": "log", "domain": [0.001, 1], "nice": false}, "axis": {"orient": "left", "offset": -518, "values": [0.001,0.002,0.003,0.004,0.005,0.006,0.007,0.008,0.009,0.01,0.02,0.03,0.04,0.05,0.06,0.07,0.08,0.09,0.1,0.2,0.3,0.4,0.5,0.6,0.7,0.8,0.9,1], "labels": false, "tickSize": 7, "title": null}}}},
   {"data": {"name": "tri"}, "mark": {"type": "point", "shape": "triangle-up", "filled": false, "size": 800, "strokeWidth": 1.3, "opacity": 1},
    "encoding": {"x": {"field": "k", "type": "quantitative", "scale": {"type": "log", "domain": [1, 158.5], "nice": false}, "axis": null}, "y": {"field": "h", "type": "quantitative", "scale": {"type": "log", "domain": [0.001, 1], "nice": false}, "axis": null},
     "color": {"field": "k", "type": "quantitative", "scale": {"type": "log", "domain": [8, 110], "range": ["#d4b650", "#f39a0c"]}, "legend": null}}},
   {"data": {"name": "circ"}, "mark": {"type": "point", "shape": "circle", "filled": false, "size": 620, "strokeWidth": 1.3, "opacity": 1},
    "encoding": {"x": {"field": "k", "type": "quantitative", "scale": {"type": "log", "domain": [1, 158.5], "nice": false}, "axis": null}, "y": {"field": "h", "type": "quantitative", "scale": {"type": "log", "domain": [0.001, 1], "nice": false}, "axis": null},
     "stroke": {"field": "k", "type": "quantitative", "scale": {"domain": [6, 28], "range": ["#a82a45", "#e8141c"]}, "legend": null}}},
   {"data": {"name": "btri"}, "mark": {"type": "point", "shape": "triangle-down", "filled": false, "size": 800, "strokeWidth": 1.3, "color": "black", "opacity": 1},
    "encoding": {"x": {"field": "k", "type": "quantitative", "scale": {"type": "log", "domain": [1, 158.5], "nice": false}, "axis": null}, "y": {"field": "h", "type": "quantitative", "scale": {"type": "log", "domain": [0.001, 1], "nice": false}, "axis": null}}},
   {"data": {"values": [{"t": "(h)"}]}, "mark": {"type": "text", "font": "Liberation Sans", "fontSize": 25, "color": "black"},
    "encoding": {"x": {"datum": 1.4, "type": "quantitative", "scale": {"type": "log", "domain": [1, 158.5], "nice": false}, "axis": null}, "y": {"datum": 0.57, "type": "quantitative", "scale": {"type": "log", "domain": [0.001, 1], "nice": false}, "axis": null}, "text": {"field": "t"}}}
  ]},
 {"width": 126, "height": 393, "data": {"values": [{}]}, "mark": {"type": "rule", "color": "#555555", "strokeWidth": 1.5, "strokeDash": [14, 12]}, "encoding": {"x": {"datum": 0, "type": "quantitative", "scale": {"domain": [0, 1]}, "axis": null}}},
 {"width": 518, "height": 393, "view": {"stroke": "black", "strokeWidth": 1.5},
  "resolve": {"axis": {"x": "independent", "y": "independent"}},
  "layer": [
   {"data": {"name": "cur2"}, "mark": {"type": "line", "clip": true, "color": "#a8343f", "strokeWidth": 1.3},
    "encoding": {"x": {"field": "k", "type": "quantitative", "scale": {"type": "log", "domain": [1, 158.5], "nice": false}, "axis": {"orient": "bottom", "values": [1, 10, 100], "labelExpr": "datum.value < 5 ? '10⁰' : datum.value < 50 ? '10¹' : '10²'", "ticks": false, "tickSize": 0, "labelPadding": 12, "title": "k", "titlePadding": 4}},
     "y": {"field": "ir", "type": "quantitative", "scale": {"type": "log", "domain": [0.001, 1], "nice": false}, "axis": {"orient": "left", "values": [0.001, 0.01, 0.1, 1], "labelExpr": "datum.value > 0.5 ? '10⁰' : datum.value > 0.05 ? '10⁻¹' : datum.value > 0.005 ? '10⁻²' : '10⁻³'", "ticks": false, "tickSize": 0, "labelPadding": 6, "title": "⟨ Δ θ²(k) ⟩ₜ", "titlePadding": 10}}}},
   {"data": {"name": "cur2"}, "mark": {"type": "line", "clip": true, "color": "#d8ac3c", "strokeWidth": 1.3},
    "encoding": {"x": {"field": "k", "type": "quantitative", "scale": {"type": "log", "domain": [1, 158.5], "nice": false}, "axis": {"orient": "top", "offset": -393, "values": [1,2,3,4,5,6,7,8,9,10,20,30,40,50,60,70,80,90,100], "labels": false, "tickSize": 7, "title": null}},
     "y": {"field": "iy", "type": "quantitative", "scale": {"type": "log", "domain": [0.001, 1], "nice": false}, "axis": {"orient": "right", "offset": -518, "values": [0.001,0.002,0.003,0.004,0.005,0.006,0.007,0.008,0.009,0.01,0.02,0.03,0.04,0.05,0.06,0.07,0.08,0.09,0.1,0.2,0.3,0.4,0.5,0.6,0.7,0.8,0.9,1], "labels": false, "tickSize": 7, "title": null}}}},
   {"data": {"name": "cur2"}, "mark": {"type": "line", "clip": true, "color": "black", "strokeWidth": 1.3},
    "encoding": {"x": {"field": "k", "type": "quantitative", "scale": {"type": "log", "domain": [1, 158.5], "nice": false}, "axis": {"orient": "bottom", "offset": -393, "values": [1,2,3,4,5,6,7,8,9,10,20,30,40,50,60,70,80,90,100], "labels": false, "tickSize": 7, "title": null}},
     "y": {"field": "ib", "type": "quantitative", "scale": {"type": "log", "domain": [0.001, 1], "nice": false}, "axis": {"orient": "left", "offset": -518, "values": [0.001,0.002,0.003,0.004,0.005,0.006,0.007,0.008,0.009,0.01,0.02,0.03,0.04,0.05,0.06,0.07,0.08,0.09,0.1,0.2,0.3,0.4,0.5,0.6,0.7,0.8,0.9,1], "labels": false, "tickSize": 7, "title": null}}}},
   {"data": {"name": "tri"}, "mark": {"type": "point", "shape": "triangle-up", "filled": false, "size": 800, "strokeWidth": 1.3, "opacity": 1},
    "encoding": {"x": {"field": "k", "type": "quantitative", "scale": {"type": "log", "domain": [1, 158.5], "nice": false}, "axis": null}, "y": {"field": "i", "type": "quantitative", "scale": {"type": "log", "domain": [0.001, 1], "nice": false}, "axis": null},
     "color": {"field": "k", "type": "quantitative", "scale": {"type": "log", "domain": [8, 110], "range": ["#d4b650", "#f39a0c"]}, "legend": null}}},
   {"data": {"name": "circ"}, "mark": {"type": "point", "shape": "circle", "filled": false, "size": 620, "strokeWidth": 1.3, "opacity": 1},
    "encoding": {"x": {"field": "k", "type": "quantitative", "scale": {"type": "log", "domain": [1, 158.5], "nice": false}, "axis": null}, "y": {"field": "i", "type": "quantitative", "scale": {"type": "log", "domain": [0.001, 1], "nice": false}, "axis": null},
     "stroke": {"field": "k", "type": "quantitative", "scale": {"domain": [6, 28], "range": ["#a82a45", "#e8141c"]}, "legend": null}}},
   {"data": {"name": "btri"}, "mark": {"type": "point", "shape": "triangle-down", "filled": false, "size": 800, "strokeWidth": 1.3, "color": "black", "opacity": 1},
    "encoding": {"x": {"field": "k", "type": "quantitative", "scale": {"type": "log", "domain": [1, 158.5], "nice": false}, "axis": null}, "y": {"field": "i", "type": "quantitative", "scale": {"type": "log", "domain": [0.001, 1], "nice": false}, "axis": null}}},
   {"data": {"values": [{"t": "(i)"}]}, "mark": {"type": "text", "font": "Liberation Sans", "fontSize": 25, "color": "black"},
    "encoding": {"x": {"datum": 1.4, "type": "quantitative", "scale": {"type": "log", "domain": [1, 158.5], "nice": false}, "axis": null}, "y": {"datum": 0.57, "type": "quantitative", "scale": {"type": "log", "domain": [0.001, 1], "nice": false}, "axis": null}, "text": {"field": "t"}}}
  ]},

 {"width": 1, "height": 1, "data": {"values": []}, "mark": "point"},
 {"width": 1, "height": 1, "data": {"values": []}, "mark": "point"},
 {"width": 1, "height": 1, "data": {"values": []}, "mark": "point"},
 {"width": 128, "height": 88, "data": {"values": [{}]}, "mark": {"type": "rule", "color": "#555555", "strokeWidth": 1.5, "strokeDash": [14, 12]}, "encoding": {"x": {"datum": 0, "type": "quantitative", "scale": {"domain": [0, 1]}, "axis": null}}},
 {"width": 1, "height": 1, "data": {"values": []}, "mark": "point"},
 {"width": 126, "height": 88, "data": {"values": [{}]}, "mark": {"type": "rule", "color": "#555555", "strokeWidth": 1.5, "strokeDash": [14, 12]}, "encoding": {"x": {"datum": 0, "type": "quantitative", "scale": {"domain": [0, 1]}, "axis": null}}},
 {"width": 1, "height": 1, "data": {"values": []}, "mark": "point"}
]
}
